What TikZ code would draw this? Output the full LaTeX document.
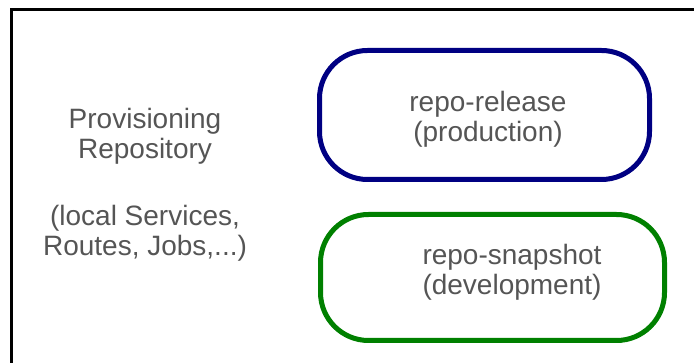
\documentclass[tikz,border=0pt]{standalone}
\usepackage{fontspec}
\setmainfont{Liberation Sans}
\definecolor{relblue}{RGB}{0,0,130}
\definecolor{snapgreen}{RGB}{0,128,0}
\definecolor{textgray}{RGB}{85,85,85}
\begin{document}
\begin{tikzpicture}[x=1pt,y=-1pt,
  pill/.style={draw=#1,line width=5pt,rounded corners=48pt,inner sep=0pt},
  caption/.style={text=textgray,align=center,anchor=base,font=\fontsize{28}{30}\selectfont}]
  \useasboundingbox (0,0) rectangle (694,363);
  \clip (0,0) rectangle (694,363);
  \draw[line width=3pt] (11.5,380) -- (11.5,9.5) -- (710,9.5);
  \node[pill=relblue,minimum width=330pt,minimum height=129pt] (release) at (484.5,115) {};
  \node[pill=snapgreen,minimum width=344pt,minimum height=126pt] (snapshot) at (492.5,277.5) {};
  \node[caption] (releasetext) at (488,142) {repo-release\\(production)};
  \node[caption] (snapshottext) at (512,295) {repo-snapshot\\(development)};
  \node[caption] (provisioning) at (145,256) {Provisioning\\Repository\\[37pt](local Services,\\Routes, Jobs,...)};
\end{tikzpicture}
\end{document}
